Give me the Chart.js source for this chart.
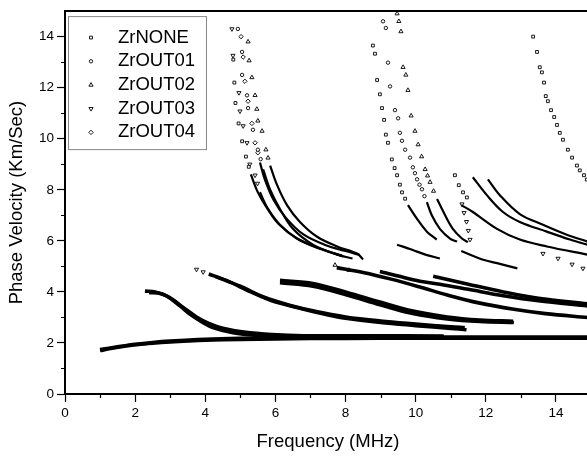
<!DOCTYPE html>
<html>
<head>
<meta charset="utf-8">
<script src="https://cdn.jsdelivr.net/npm/chart.js@4.4.1/dist/chart.umd.min.js"></script>
<style>
    html, body { margin: 0; padding: 0; background: #fff; overflow: hidden; }
</style>
</head>
<body>
<canvas id="dispCanvas" width="600" height="456"></canvas>
<script>
const seriesNames = ["ZrNONE", "ZrOUT01", "ZrOUT02", "ZrOUT03", "ZrOUT04"];
const xTicks = [0, 2, 4, 6, 8, 10, 12, 14];
const yTicks = [0, 2, 4, 6, 8, 10, 12, 14];

// points are [frequency MHz, phase velocity km/s]
// bands = low branches where markers pile up into a thick dark stroke
// tails = lower ends of the steep branches, packed but thinner
// dots  = loose markers

const zrNoneBands = [
    [[1.0,1.7],[1.3,1.78],[1.7,1.87],[2.1,1.94],[2.5,1.99],[3.0,2.04],[3.5,2.08],[4.0,2.11],[5.0,2.14],[6.0,2.16],[8.0,2.18],[10.0,2.19],[12.0,2.19],[14.9,2.19]],
    [[7.75,4.95],[8.5,4.76],[9.3,4.5],[10.1,4.2],[10.9,3.88],[11.8,3.57],[12.8,3.32],[13.7,3.15],[14.9,3.0]]
];
const zrNoneTails = [
    [[5.3,8.6],[5.5,7.9],[5.8,7.2],[6.1,6.65],[6.6,6.1],[7.2,5.72],[7.9,5.42]],
    [[9.78,7.4],[10.04,6.86],[10.32,6.36],[10.6,6.05]],
    [[11.3,7.4],[11.63,7.13],[12.32,6.47],[12.97,6.05],[13.74,5.78],[14.9,5.46]]
];
const zrNoneDots = [
    [4.8,13.1],[4.83,12.2],[4.86,11.4],[4.95,10.6],[5.05,9.9],[5.16,9.3],[5.24,8.9],
    [8.78,13.65],[8.84,13.33],[8.9,12.3],[8.98,11.74],[9.04,11.2],[9.1,10.74],[9.15,10.16],[9.21,9.84],[9.32,9.19],[9.4,8.85],[9.47,8.57],[9.55,8.2],[9.61,7.9],[9.7,7.65],
    [11.12,8.57],[11.23,8.18],[11.35,7.9],[11.46,7.7],
    [13.35,14.0],[13.46,13.4],[13.54,12.8],[13.6,12.6],[13.66,12.2],[13.71,11.67],[13.77,11.47],[13.86,11.12],[13.95,10.85],[14.03,10.54],[14.11,10.23],[14.2,9.96],[14.34,9.57],[14.46,9.26],[14.6,8.95],[14.68,8.76],[14.8,8.57],[14.88,8.4]
];

const zrOut01Bands = [
    [[2.28,4.03],[2.57,4.0],[2.9,3.84],[3.28,3.45],[3.56,3.13],[3.85,2.87],[4.22,2.6],[4.79,2.4],[5.56,2.29],[6.33,2.24],[8.0,2.24],[10.8,2.24]],
    [[6.13,4.36],[7.07,4.22],[8.04,3.88],[8.98,3.5],[9.92,3.15],[10.9,2.94],[11.83,2.84],[12.8,2.8]]
];
const zrOut01Tails = [
    [[5.65,8.8],[5.85,8.0],[6.13,7.25],[6.5,6.47],[7.07,5.85],[7.76,5.46],[8.2,5.31]],
    [[10.32,7.52],[10.46,7.0],[10.69,6.47],[10.98,6.09],[11.18,5.97]],
    [[11.3,5.6],[11.9,5.27],[12.4,5.1],[12.9,4.92]]
];
const zrOut01Dots = [
    [4.93,14.3],[5.05,13.4],[5.05,12.5],[5.19,11.7],[5.22,11.2],[5.36,10.35],[5.5,9.57],[5.58,9.2],
    [9.07,14.6],[9.15,14.34],[9.21,12.98],[9.27,12.05],[9.41,11.12],[9.5,10.8],[9.55,10.23],[9.61,9.92],[9.7,9.57],[9.84,9.26],[9.92,8.88],[9.98,8.65],[10.04,8.41],[10.11,8.2],[10.18,8.02],[10.25,7.75]
];

const zrOut02Bands = [
    [[2.4,3.98],[2.75,3.93],[3.05,3.72],[3.4,3.36],[3.75,3.02],[4.1,2.77],[4.5,2.58],[5.1,2.43],[5.9,2.33],[6.8,2.28],[8.5,2.28],[10.8,2.27]],
    [[8.98,4.8],[9.5,4.62],[10.12,4.42],[10.69,4.3],[11.5,4.1],[12.5,3.85],[13.5,3.65],[14.9,3.45]]
];
const zrOut02Tails = [
    [[5.85,8.95],[6.05,8.18],[6.33,7.4],[6.7,6.74],[7.19,6.16],[7.76,5.78],[8.33,5.5],[8.5,5.27]],
    [[10.61,7.64],[10.84,7.0],[11.06,6.47],[11.32,6.09],[11.49,5.95]]
];
const zrOut02Dots = [
    [5.22,13.8],[5.25,13.06],[5.33,12.4],[5.42,11.7],[5.47,11.16],[5.5,10.7],[5.62,10.3],[5.73,9.57],[5.79,9.25],
    [9.47,14.9],[9.52,14.6],[9.58,14.2],[9.64,12.8],[9.72,12.5],[9.78,11.9],[9.87,10.9],[9.98,10.3],[10.07,9.77],[10.17,9.3],[10.27,8.8],[10.34,8.55],[10.41,8.3],[10.51,7.95],
    [7.7,5.05],[8.1,4.85]
];

const zrOut03Bands = [
    [[4.1,4.7],[4.6,4.45],[5.3,4.0],[5.9,3.65],[6.7,3.36],[7.5,3.1],[8.0,2.97],[9.0,2.8],[10.0,2.68],[11.0,2.57],[11.45,2.52]],
    [[6.13,4.45],[7.07,4.33],[8.04,3.98],[8.98,3.6],[9.92,3.25],[10.9,3.02],[11.83,2.9],[12.78,2.85]]
];
const zrOut03Tails = [
    [[5.56,7.9],[5.79,7.25],[6.13,6.63],[6.62,6.09],[7.27,5.7],[7.93,5.39]]
];
const zrOut03Dots = [
    [4.76,14.3],[4.79,13.26],[4.96,11.8],[4.99,11.08],[5.08,10.5],[5.19,9.84],[5.27,9.0],[5.42,8.57],[5.49,8.25],
    [3.75,4.88],[3.94,4.78],
    [11.32,7.44],[11.38,7.1],[11.45,6.75],[11.5,6.4],[11.55,6.05],
    [13.63,5.5],[14.06,5.31],[14.46,5.08],[14.77,4.92]
];

const zrOut04Bands = [
    [[1.0,1.74],[1.5,1.85],[2.0,1.95],[2.5,2.02],[3.0,2.07],[4.0,2.14],[5.0,2.18],[6.0,2.2],[8.0,2.22],[10.0,2.23],[12.0,2.23],[14.9,2.23]],
    [[4.3,4.6],[5.0,4.22],[5.7,3.78],[6.4,3.48],[7.2,3.22],[8.0,3.02],[9.0,2.86],[10.0,2.74],[11.0,2.63],[11.4,2.6]],
    [[10.5,4.61],[11.5,4.3],[12.5,4.0],[13.5,3.75],[14.9,3.53]]
];
const zrOut04Tails = [
    [[5.56,9.07],[5.7,8.4],[5.95,7.6],[6.3,6.9],[6.8,6.25],[7.4,5.85],[8.0,5.6],[8.4,5.45]],
    [[9.47,5.85],[9.9,5.65],[10.3,5.45],[10.69,5.31]],
    [[11.63,8.49],[12.03,7.79],[12.49,7.13],[12.97,6.74],[13.74,6.36],[14.4,6.05],[14.9,5.85]],
    [[12.06,8.41],[12.4,7.79],[12.97,7.05],[13.63,6.63],[14.31,6.24],[14.9,5.97]]
];
const zrOut04Dots = [
    [5.02,14.0],[5.08,13.2],[5.13,12.25],[5.22,11.47],[5.33,10.6],[5.42,9.84],[5.5,9.45]
];

const allBands = [zrNoneBands, zrOut01Bands, zrOut02Bands, zrOut03Bands, zrOut04Bands];
const allTails = [zrNoneTails, zrOut01Tails, zrOut02Tails, zrOut03Tails, zrOut04Tails];
const allDots = [zrNoneDots, zrOut01Dots, zrOut02Dots, zrOut03Dots, zrOut04Dots];

// marker look for each series
const pointStyles = ["rect", "circle", "triangle", "triangle", "rectRot"];
const pointRotations = [0, 0, 0, 180, 0];
const pointSizes = [2, 1.7, 2.4, 2.4, 2.2];

const FONT = '"Liberation Sans", Arial, Helvetica, sans-serif';

function toXY(list) {
    return list.map(p => ({ x: p[0], y: p[1] }));
}

const datasets = [];
seriesNames.forEach((name, i) => {
    const marker = {
        label: name,
        pointStyle: pointStyles[i],
        pointRotation: pointRotations[i],
        pointBorderWidth: 0.9,
        pointBorderColor: "#000",
        pointBackgroundColor: "#fff"
    };
    allBands[i].forEach(band => {
        datasets.push(Object.assign({
            data: toXY(band), showLine: true, borderColor: "#000",
            borderWidth: 3.6, tension: 0.35, pointRadius: 0
        }, marker));
    });
    allTails[i].forEach(tail => {
        datasets.push(Object.assign({
            data: toXY(tail), showLine: true, borderColor: "#000",
            borderWidth: 2.2, tension: 0.35, pointRadius: 0
        }, marker));
    });
    datasets.push(Object.assign({
        data: toXY(allDots[i]), showLine: false, pointRadius: pointSizes[i]
    }, marker));
});

// top frame line + the short minor ticks
const frameAndMinor = {
    id: "frameAndMinor",
    afterDraw(chart) {
        const { ctx, chartArea, scales } = chart;
        ctx.save();
        ctx.strokeStyle = "#000";
        ctx.lineWidth = 2;
        ctx.beginPath();
        ctx.moveTo(chartArea.left - 1, chartArea.top);
        ctx.lineTo(chartArea.right, chartArea.top);
        ctx.moveTo(chartArea.right, chartArea.top);
        ctx.lineTo(chartArea.right, chartArea.bottom);
        ctx.stroke();
        ctx.lineWidth = 1.2;
        ctx.beginPath();
        for (let v = 1; v < 15; v += 2) {
            const px = Math.round(scales.x.getPixelForValue(v)) + 0.5;
            ctx.moveTo(px, chartArea.bottom);
            ctx.lineTo(px, chartArea.bottom + 4);
            const py = Math.round(scales.y.getPixelForValue(v)) + 0.5;
            ctx.moveTo(chartArea.left, py);
            ctx.lineTo(chartArea.left - 4, py);
        }
        ctx.stroke();
        ctx.restore();
    }
};

// legend box sitting inside the plot, top left
const insideLegend = {
    id: "insideLegend",
    afterDraw(chart) {
        const ctx = chart.ctx;
        const left = chart.chartArea.left + 3;
        const top = chart.chartArea.top + 5;
        ctx.save();
        ctx.fillStyle = "#fff";
        ctx.fillRect(left, top, 138, 133);
        ctx.strokeStyle = "#888";
        ctx.lineWidth = 1;
        ctx.strokeRect(left + 0.5, top + 0.5, 138, 133);
        ctx.font = "18.5px " + FONT;
        ctx.textBaseline = "middle";
        seriesNames.forEach((name, i) => {
            const y = top + 21.5 + i * 23.7;
            ctx.fillStyle = "#fff";
            ctx.strokeStyle = "#000";
            ctx.lineWidth = 0.9;
            Chart.helpers.drawPoint(ctx, {
                pointStyle: pointStyles[i],
                rotation: pointRotations[i],
                radius: pointSizes[i],
                borderWidth: 0.9
            }, left + 23, y);
            ctx.fillStyle = "#000";
            ctx.fillText(name, left + 50, y);
        });
        ctx.restore();
    }
};

const ctx = document.getElementById("dispCanvas").getContext("2d");
new Chart(ctx, {
    type: "scatter",
    data: { datasets: datasets },
    options: {
        responsive: false,
        animation: false,
        layout: { padding: { top: 7, right: 9, left: 0, bottom: 0 } },
        plugins: {
            legend: { display: false },
            tooltip: { enabled: false }
        },
        scales: {
            x: {
                type: "linear",
                min: 0,
                max: 15,
                afterFit: s => { s.height = 62; },
                afterBuildTicks: s => { s.ticks = xTicks.map(v => ({ value: v })); },
                ticks: {
                    color: "#000",
                    font: { family: FONT, size: 13.5 },
                    padding: 3,
                    maxRotation: 0,
                    autoSkip: false
                },
                grid: { drawOnChartArea: false, tickLength: 8, tickColor: "#000", tickWidth: 1.2 },
                border: { color: "#000", width: 2 },
                title: {
                    display: true,
                    text: "Frequency (MHz)",
                    color: "#000",
                    font: { family: FONT, size: 18.5 },
                    padding: { top: 0, bottom: 3 }
                }
            },
            y: {
                type: "linear",
                min: 0,
                max: 15,
                afterFit: s => { s.width = 65; },
                afterBuildTicks: s => { s.ticks = yTicks.map(v => ({ value: v })); },
                ticks: {
                    color: "#000",
                    font: { family: FONT, size: 13.5 },
                    padding: 3
                },
                grid: { drawOnChartArea: false, tickLength: 8, tickColor: "#000", tickWidth: 1.2 },
                border: { color: "#000", width: 2 },
                title: {
                    display: true,
                    text: "Phase Velocity (Km/Sec)",
                    color: "#000",
                    font: { family: FONT, size: 18.5 },
                    padding: { top: 6, bottom: 0 }
                }
            }
        }
    },
    plugins: [frameAndMinor, insideLegend]
});
</script>
</body>
</html>
